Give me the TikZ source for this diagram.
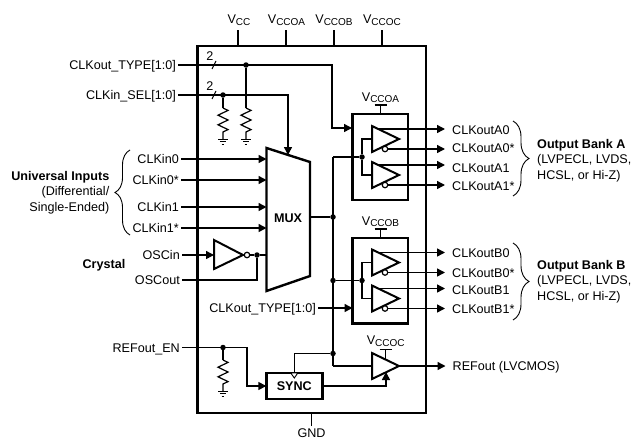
\documentclass[tikz,border=0pt]{standalone}
\usepackage{fontspec}
\setmainfont{Liberation Sans}
\usetikzlibrary{arrows.meta}
\usetikzlibrary{calc}
\usetikzlibrary{decorations.pathreplacing}
\tikzset{wire/.style={line width=1.45pt},
block/.style={draw,line width=2.4pt,fill=white,inner sep=0pt,outer sep=0pt},
junc/.style={circle,fill=black,inner sep=0pt,minimum size=5.5pt},
bubble/.style={circle,draw,fill=white,line width=1.2pt,inner sep=0pt,minimum size=5.5pt},
siglbl/.style={inner sep=0pt,text height=9pt,text depth=0pt},
inlbl/.style={siglbl,anchor=east,inner xsep=2pt},
outlbl/.style={siglbl,anchor=west,inner xsep=7pt},
sidelbl/.style={inner sep=0pt,anchor=west,align=left},
supply/.style={siglbl},
brace/.style={line width=0.9pt,decorate,decoration={brace,amplitude=#1}},
>={Triangle[length=8pt,width=8pt]}}
\newcommand{\vsub}[1]{V\raisebox{-1.5pt}{\fontsize{10}{10}\selectfont #1}}
\newcommand{\pulldown}[3]{
\coordinate (#1) at (#2,#3);
\draw [line width=1.2pt] (#1) -- ++(5,2.4) -- ++(-10,4.8) -- ++(10,4.8) -- ++(-10,4.8) -- ++(10,4.8) -- ++(-5,2.4) -- ++(0,7);
\draw [line width=1pt] ($(#1)+(-5,31)$) -- ++(10,0) ($(#1)+(-3.2,33.5)$) -- ++(6.4,0) ($(#1)+(-1.4,36)$) -- ++(2.8,0);
}
\newcommand{\buffer}[3]{
\coordinate (#1) at (#2,#3);
\coordinate (#1out) at (#2+27,#3);
\coordinate (#1true) at (#2+6,#3-10);
\draw [block,line width=2pt] (#2,#3-13) -- (#1out) -- (#2,#3+13) -- cycle;
}
\newcommand{\compl}[1]{
\node (#1bub) [bubble] at ($(#1)+(13,10)$) {};
}
\newcommand{\busmark}[3]{
\node (#1) [inner sep=0pt] at (#2-4,#3-9) {2};
\coordinate (#1a) at (#2-2,#3+4);
\coordinate (#1b) at (#2+2,#3-4);
\draw [line width=1pt] (#1a) -- (#1b);
}
\newcommand{\tee}[5]{
\node (#1) [supply] at (#2,#3) {\vsub{#5}};
\coordinate (#1bar) at (#2,#4);
\coordinate (#1end) at (#2,#4+9);
\draw [line width=1.2pt] (#1bar) -- (#1end);
\draw [line width=1.2pt] ($(#1bar)+(-6,0)$) -- ($(#1bar)+(6,0)$);
}
\begin{document}
\begin{tikzpicture}[x=1pt,y=-1pt,font=\fontsize{12.6}{15.5}\selectfont]
  \useasboundingbox (0,0) rectangle (634,439);
  \node (chip) [block,minimum width=228.5pt,minimum height=367pt] at (311.75,229.5) {};

  % supply pins
  \node (vcc) [supply] at (239,19) {\vsub{CC}};
  \node (vccoa) [supply] at (286.5,19) {\vsub{CCOA}};
  \node (vccob) [supply] at (334,19) {\vsub{CCOB}};
  \node (vccoc) [supply] at (382,19) {\vsub{CCOC}};
  \node (gnd) [supply] at (311.5,433) {GND};
  \coordinate (vccpin) at (238,30);
  \coordinate (vccoapin) at (286,30);
  \coordinate (vccobpin) at (334,30);
  \coordinate (vccocpin) at (382,30);
  \coordinate (gndpin) at (311.5,426);
  \draw [wire] (vccpin) -- (vccpin |- chip.north);
  \draw [wire] (vccoapin) -- (vccoapin |- chip.north);
  \draw [wire] (vccobpin) -- (vccobpin |- chip.north);
  \draw [wire] (vccocpin) -- (vccocpin |- chip.north);
  \draw [wire] (gndpin) -- (gndpin |- chip.south);

  % inputs
  \node (typein) [inlbl] at (178,65) {CLKout\_TYPE[1:0]};
  \node (selin) [inlbl] at (178,95) {CLKin\_SEL[1:0]};
  \node (clkin0) [inlbl] at (181,159) {CLKin0};
  \node (clkin0n) [inlbl] at (181,180) {CLKin0*};
  \node (clkin1) [inlbl] at (181,207) {CLKin1};
  \node (clkin1n) [inlbl] at (181,228) {CLKin1*};
  \node (oscin) [inlbl] at (182,255) {OSCin};
  \node (oscout) [inlbl] at (182,280) {OSCout};
  \node (refen) [inlbl] at (182,348) {REFout\_EN};
  \node (crystal) [inner sep=0pt,anchor=east] at (125.5,265) {\textbf{Crystal}};
  \node (univ) [inner sep=0pt,anchor=east,align=right] at (109.5,192.5) {\textbf{Universal Inputs}\\(Differential/\\Single-Ended)};
  \coordinate (inbrb) at (130,235);
  \coordinate (inbrt) at (130,150);
  \draw [brace=15pt] (inbrb) -- (inbrt);

  % mux
  \coordinate (muxnw) at (266.5,148);
  \coordinate (muxne) at (310,162);
  \coordinate (muxse) at (310,276);
  \coordinate (muxsw) at (266.5,291);
  \coordinate (muxsel) at (288,155);
  \coordinate (muxout) at (310,217);
  \draw [block] (muxnw) -- (muxne) -- (muxse) -- (muxsw) -- cycle;
  \node (muxlbl) [inner sep=0pt] at (288,218) {\textbf{MUX}};
  \draw [wire,->] (clkin0.east) -- (clkin0.east -| muxnw);
  \draw [wire,->] (clkin0n.east) -- (clkin0n.east -| muxnw);
  \draw [wire,->] (clkin1.east) -- (clkin1.east -| muxnw);
  \draw [wire,->] (clkin1n.east) -- (clkin1n.east -| muxnw);

  % type and select buses
  \node (seldot) [junc] at (223,95) {};
  \node (typedot) [junc] at (246,65) {};
  \coordinate (typecorner) at (332,65);
  \draw [wire,->] (selin.east) -| (muxsel);
  \pulldown{selres}{223}{108}
  \pulldown{typeres}{246}{108}
  \draw [line width=1.2pt] (seldot) -- (selres);
  \draw [line width=1.2pt] (typedot) -- (typeres);
  \busmark{typebus}{214}{65}
  \busmark{selbus}{214}{95}

  % crystal
  \coordinate (invin) at (214,255);
  \coordinate (invout) at (243,255);
  \draw [block,line width=2pt] (214,240) -- (invout) -- (214,269) -- cycle;
  \node (invbub) [bubble] at (247,255) {};
  \node (oscdot) [junc] at (257,255) {};
  \draw [wire,->] (oscin.east) -- (invin);
  \draw [wire] (invbub) -- (oscdot);
  \draw [wire] (oscdot) -- (oscdot -| muxnw);
  \draw [wire] (oscout.east) -| (oscdot);

  % clock distribution
  \node (clkdot) [junc] at (333,217) {};
  \node (bdot) [junc] at (333,280.5) {};
  \node (refdot) [junc] at (333,353.5) {};
  \coordinate (clktop) at (333,157);
  \coordinate (refturn) at (333,366);
  \draw [wire] (muxout) -- (clkdot);
  \draw [wire] (clktop) -- (refturn);

  % output bank A
  \node (boxa) [block,minimum width=55.5pt,minimum height=86pt] at (380.25,157) {};
  \tee{teea}{380.5}{96.5}{105}{CCOA}
  \node (adot) [junc] at (362,157) {};
  \buffer{bufa0}{372}{139}
  \buffer{bufa1}{372}{175}
  \compl{bufa0}
  \compl{bufa1}
  \draw [wire] (clktop) -- (adot);
  \draw [wire] (bufa0) -| (adot);
  \draw [wire] (bufa1) -| (adot);
  \coordinate (boxain) at (352,128);
  \draw [wire,->] (typein.east) -| (typecorner) |- (boxain);
  \node (clkouta0) [outlbl] at (445,130) {CLKoutA0};
  \node (clkouta0n) [outlbl] at (445,147.5) {CLKoutA0*};
  \node (clkouta1) [outlbl] at (445,167.5) {CLKoutA1};
  \node (clkouta1n) [outlbl] at (445,186) {CLKoutA1*};
  \draw [wire,->] (bufa0true) -- (bufa0true -| clkouta0.west);
  \draw [wire,->] (bufa0bub.east) -- (bufa0bub.east -| clkouta0n.west);
  \draw [wire,->] (bufa1true) -- (bufa1true -| clkouta1.west);
  \draw [wire,->] (bufa1bub.east) -- (bufa1bub.east -| clkouta1n.west);
  \coordinate (abrt) at (513,121);
  \coordinate (abrb) at (513,196);
  \draw [brace=16pt] (abrt) -- (abrb);
  \node (banka) [sidelbl] at (537,160.5) {\textbf{Output Bank A}\\(LVPECL, LVDS,\\HCSL, or Hi-Z)};

  % output bank B
  \node (boxb) [block,minimum width=55.5pt,minimum height=85.5pt] at (380.25,280.75) {};
  \tee{teeb}{380.5}{220.5}{229}{CCOB}
  \node (bindot) [junc] at (362,280.5) {};
  \buffer{bufb0}{372}{262.5}
  \buffer{bufb1}{372}{298.5}
  \compl{bufb0}
  \compl{bufb1}
  \draw [wire] (bdot) -- (bindot);
  \draw [wire] (bufb0) -| (bindot);
  \draw [wire] (bufb1) -| (bindot);
  \node (typeb) [inlbl] at (318,308) {CLKout\_TYPE[1:0]};
  \draw [wire,->] (typeb.east) -- (typeb.east -| boxb.west);
  \node (clkoutb0) [outlbl] at (445,253) {CLKoutB0};
  \node (clkoutb0n) [outlbl] at (445,272.5) {CLKoutB0*};
  \node (clkoutb1) [outlbl] at (445,289.5) {CLKoutB1};
  \node (clkoutb1n) [outlbl] at (445,309) {CLKoutB1*};
  \draw [wire,->] (bufb0true) -- (bufb0true -| clkoutb0.west);
  \draw [wire,->] (bufb0bub.east) -- (bufb0bub.east -| clkoutb0n.west);
  \draw [wire,->] (bufb1true) -- (bufb1true -| clkoutb1.west);
  \draw [wire,->] (bufb1bub.east) -- (bufb1bub.east -| clkoutb1n.west);
  \coordinate (bbrt) at (513,243);
  \coordinate (bbrb) at (513,320);
  \draw [brace=16pt] (bbrt) -- (bbrb);
  \node (bankb) [sidelbl] at (537,281.5) {\textbf{Output Bank B}\\(LVPECL, LVDS,\\HCSL, or Hi-Z)};

  % reference output
  \node (sync) [block,minimum width=56pt,minimum height=26pt] at (294.3,386) {\textbf{SYNC}};
  \buffer{bufref}{372}{366}
  \tee{teec}{385.7}{340}{349.5}{CCOC}
  \coordinate (bufrefen) at (386,372);
  \node (refendot) [junc] at (223,347.5) {};
  \pulldown{refres}{223}{360}
  \draw [line width=1.2pt] (refendot) -- (refres);
  \coordinate (refencorner) at (247,347.5);
  \draw [wire,->] (refen.east |- refendot) -- (refencorner) |- (sync.west);
  \draw [wire] (refdot) -| (sync.north);
  \draw [line width=0.9pt,fill=white] (sync.north) ++(-3.5,0) -- ++(7,0) -- ++(-3.5,5) -- cycle;
  \draw [wire] (refturn) -- (bufref);
  \draw [wire,->] (sync.east) -| (bufrefen);
  \node (refout) [outlbl] at (445.5,366) {REFout (LVCMOS)};
  \draw [wire,->] (bufrefout) -- (refout.west);
\end{tikzpicture}
\end{document}
